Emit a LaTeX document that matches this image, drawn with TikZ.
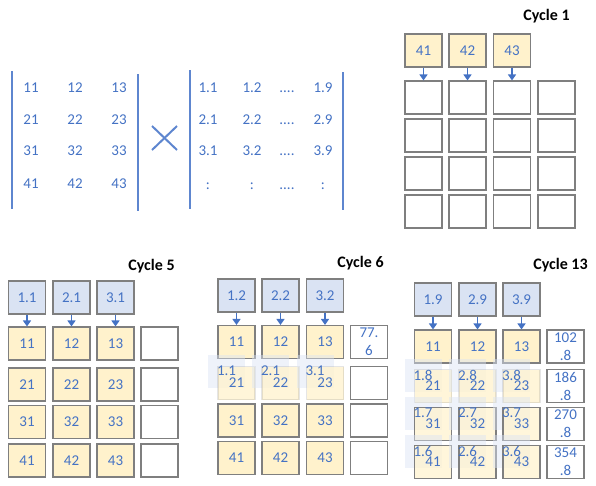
\documentclass[tikz,border=0pt]{standalone}
\usepackage{fontspec}
\setmainfont{Carlito}
\usepackage{tikz}
\usetikzlibrary{arrows.meta}

\definecolor{txtblue}{HTML}{4472C4}
\definecolor{barblue}{HTML}{5E86CF}
\definecolor{cellyellow}{HTML}{FFF2CC}
\definecolor{cellblue}{HTML}{DAE3F3}
\definecolor{edgegray}{HTML}{7F7F7F}

\begin{document}
\begin{tikzpicture}[
    x=1pt, y=-1pt,
    every node/.style={font=\fontsize{15}{18}\selectfont, text=txtblue},
    entry/.style={text height=11pt, text depth=3pt, inner sep=0pt},
    cell/.style={rectangle, draw=edgegray, line width=1.1pt, minimum width=37pt, minimum height=33pt, inner sep=0pt, align=center},
    wcell/.style={cell, fill=white},
    ycell/.style={cell, fill=cellyellow},
    bcell/.style={cell, fill=cellblue},
    fadecell/.style={cell, fill=cellyellow, fill opacity=0.75, draw opacity=0.2, text opacity=1},
    seecell/.style={cell, fill=cellyellow, fill opacity=0.7, text opacity=1},
    ghost/.style={rectangle, fill=cellblue, fill opacity=0.45, minimum width=37pt, minimum height=33pt, inner sep=0pt},
    title/.style={font=\fontsize{16}{19}\selectfont\bfseries, text=black},
    bar/.style={line width=2pt, draw=barblue},
    arrow/.style={-{Triangle[length=6pt,width=8pt]}, line width=1.4pt, draw=txtblue},
]
    \useasboundingbox (0,0) rectangle (596,485);

    \foreach \row/\yy in {1/88,2/120,3/151,4/184}
      \foreach \col/\xx in {1/31,2/75,3/119}
        \node[entry] (a-\row-\col) at (\xx,\yy) {\row\col};
    \draw[bar] (12,71) -- (12,209);
    \draw[bar] (138,74) -- (138,211);
    \draw[bar] (152,126) -- (177,150);
    \draw[bar] (152,150) -- (177,126);
    \foreach \row/\yy in {1/88,2/120,3/151}{
      \node[entry] (b-\row-1) at (208,\yy) {\row.1};
      \node[entry] (b-\row-2) at (252,\yy) {\row.2};
      \node[entry] (b-\row-3) at (287,\yy) {....};
      \node[entry] (b-\row-4) at (323,\yy) {\row.9};
    }
    \node[entry] (b-4-1) at (208,185) {:};
    \node[entry] (b-4-2) at (252,185) {:};
    \node[entry] (b-4-3) at (287,185) {....};
    \node[entry] (b-4-4) at (323,185) {:};
    \draw[bar] (190,70) -- (190,209);
    \draw[bar] (343,72) -- (343,210);

    \node[title] (t1) at (546.5,16) {Cycle 1};
    \foreach \col/\xx/\val in {1/423.5/41,2/467.5/42,3/512/43}
      \node[ycell] (p1in\col) at (\xx,50.5) {\val};
    \foreach \row/\yy in {1/97.5,2/135.5,3/173.5,4/211.5}
      \foreach \col/\xx in {1/423.5,2/467.5,3/512,4/556.5}
        \node[wcell] (p1-\row-\col) at (\xx,\yy) {};
    \foreach \col in {1,2,3}
      \draw[arrow] (p1in\col) -- (p1-1-\col);

    \node[title] (t5) at (151.5,266) {Cycle 5};
    \foreach \col/\xx in {1/27,2/71.5,3/115.5}
      \node[bcell] (p5in\col) at (\xx,297.5) {\col.1};
    \foreach \row/\yy in {1/343.5,2/384.5,3/422,4/460.5}{
      \foreach \col/\xx in {1/27,2/71.5,3/115.5}
        \node[ycell] (p5-\row-\col) at (\xx,\yy) {\row\col};
      \node[wcell] (p5-\row-4) at (159.5,\yy) {};
    }
    \foreach \col in {1,2,3}
      \draw[arrow] (p5in\col) -- (p5-1-\col);

    \node[title] (t6) at (360.5,263) {Cycle 6};
    \foreach \col/\xx in {1/236.5,2/280.5,3/325}
      \node[bcell] (p6in\col) at (\xx,295.5) {\col.2};
    \foreach \col/\xx in {1/236.5,2/280.5,3/325}{
      \node[ycell] (p6-1-\col) at (\xx,342) {1\col};
      \node[ghost] (p6g-2-\col) at (\xx-10,383-12) {};
      \node[fadecell] (p6-2-\col) at (\xx,383) {2\col};
      \node (p6gl-2-\col) at (p6g-2-\col) {\col.1};
      \node[ycell] (p6-3-\col) at (\xx,420.5) {3\col};
      \node[ycell] (p6-4-\col) at (\xx,458) {4\col};
    }
    \node[wcell] (p6-1-4) at (369,342) {77.\\6};
    \node[wcell] (p6-2-4) at (369,383) {};
    \node[wcell] (p6-3-4) at (369,420.5) {};
    \node[wcell] (p6-4-4) at (369,458) {};
    \foreach \col in {1,2,3}
      \draw[arrow] (p6in\col) -- (p6-1-\col);

    \node[title] (t13) at (560.5,265) {Cycle 13};
    \foreach \col/\xx in {1/433,2/477.5,3/521.5}
      \node[bcell] (p13in\col) at (\xx,299.5) {\col.9};
    \foreach \col/\xx in {1/433,2/477.5,3/521.5}{
      \node[ycell] (p13-1-\col) at (\xx,346.5) {1\col};
      \foreach \row/\yy in {2/386,3/424,4/462}{
        \pgfmathtruncatemacro{\prev}{10-\row}
        \node[ghost] (p13g-\row-\col) at (\xx-10,\yy-11) {};
        \ifnum\row=2
          \node[fadecell] (p13-\row-\col) at (\xx,\yy) {\row\col};
        \else
          \node[seecell] (p13-\row-\col) at (\xx,\yy) {\row\col};
        \fi
        \node (p13gl-\row-\col) at (p13g-\row-\col) {\col.\prev};
      }
    }
    \foreach \row/\yy/\val in {1/346.5/102,2/386/186,3/424/270,4/462/354}
      \node[wcell] (p13-\row-4) at (565.5,\yy) {\val\\.8};
    \foreach \col in {1,2,3}
      \draw[arrow] (p13in\col) -- (p13-1-\col);
\end{tikzpicture}
\end{document}
